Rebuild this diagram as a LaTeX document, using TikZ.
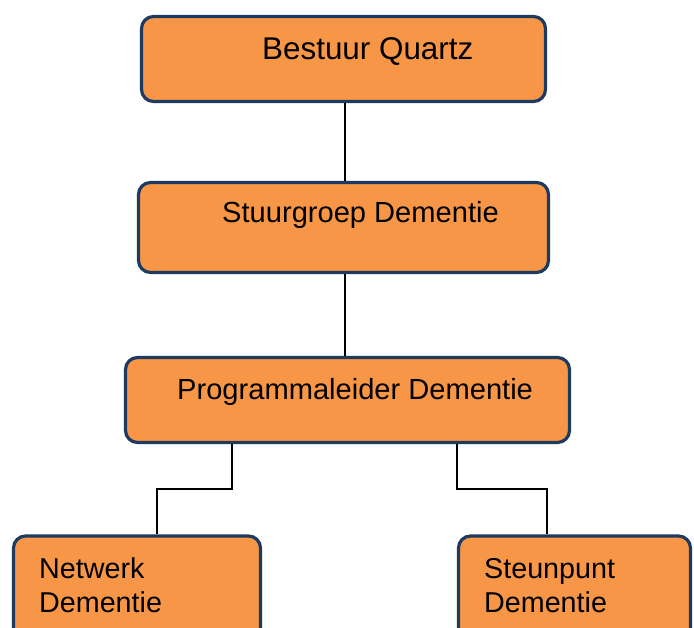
\documentclass[tikz,border=0pt]{standalone}
\usepackage{fontspec}
\setmainfont{Liberation Sans}
\usepackage{xcolor}
\usetikzlibrary{positioning}
\definecolor{qzOrange}{HTML}{F79646}
\definecolor{qzNavy}{HTML}{1F3A60}

\tikzset{
  orgbox/.style={draw=qzNavy,fill=qzOrange,line width=3.2pt,rounded corners=12pt,
    rectangle,inner sep=0pt},
  orgtext/.style={anchor=base west,inner sep=0pt,font=\fontsize{29.1}{34}\selectfont},
  link/.style={black,line width=1.5pt}
}

\begin{document}
\begin{tikzpicture}[x=1pt,y=-1pt]
    \useasboundingbox (0,0) rectangle (694,628);
    \clip (0,0) rectangle (694,628);
    % boxes
    \node[orgbox,minimum width=404pt,minimum height=85pt] (b1) at (343.5,59) {};
    \node[orgbox,minimum width=410pt,minimum height=90pt] (b2) at (343.5,227.5) {};
    \node[orgbox,minimum width=444pt,minimum height=85pt] (b3) at (347.5,400) {};
    \node[orgbox,minimum width=247pt,minimum height=112pt] (b4) at (137,592) {};
    \node[orgbox,minimum width=232pt,minimum height=112pt] (b5) at (574.5,592) {};
    % texts (base of last line for the two-line ones)
    \node[orgtext,font=\fontsize{31.4}{34}\selectfont] (t1) at (262,60) {Bestuur Quartz};
    \node[orgtext] (t2) at (222,223) {Stuurgroep Dementie};
    \node[orgtext] (t3) at (177,400) {Programmaleider Dementie};
    \node[orgtext,align=left,font=\fontsize{28.7}{34}\selectfont] (t4) at (39,612) {Netwerk\\Dementie};
    \node[orgtext,align=left,font=\fontsize{28.7}{34}\selectfont] (t5) at (484,612) {Steunpunt\\Dementie};
    % connectors
    \coordinate (mid) at (345,0);
    \coordinate (dl) at (232,489);
    \coordinate (kl) at (157,489);
    \coordinate (dr) at (457,489);
    \coordinate (kr) at (547,489);
    \draw[link] (b1.south -| mid) -- (b2.north -| mid);
    \draw[link] (b2.south -| mid) -- (b3.north -| mid);
    \draw[link] (b3.south -| dl) -- (dl) -- (kl) -- (b4.north -| kl);
    \draw[link] (b3.south -| dr) -- (dr) -- (kr) -- (b5.north -| kr);
  \end{tikzpicture}
\end{document}
